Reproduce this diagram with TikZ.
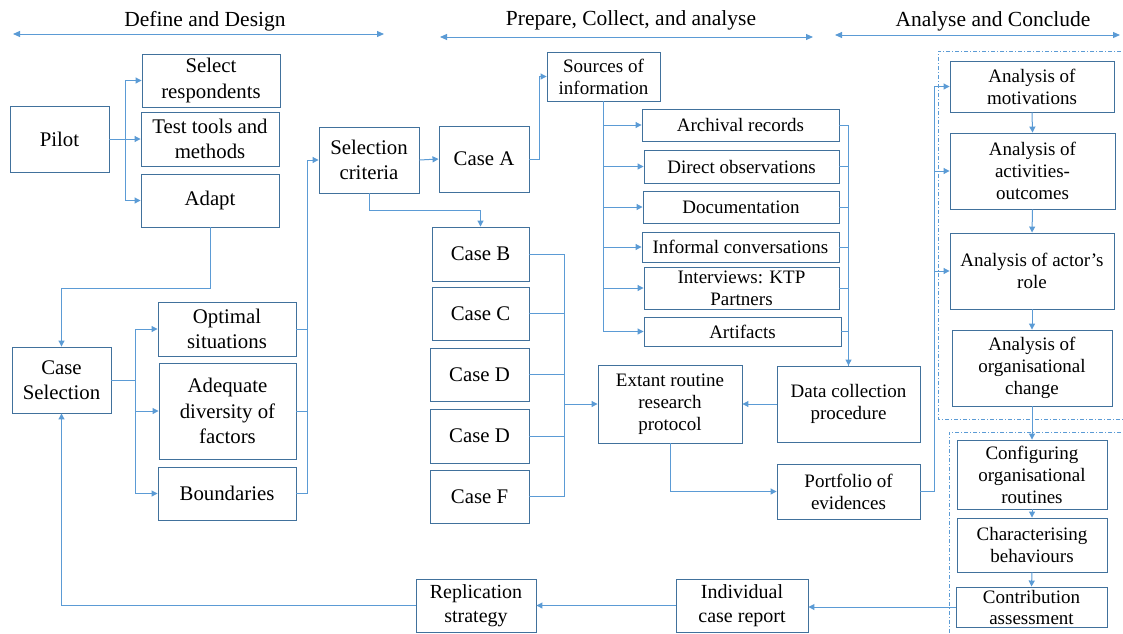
\documentclass[tikz,border=0pt]{standalone}
\usepackage{fontspec}
\setmainfont{Liberation Serif}
\usetikzlibrary{arrows.meta}
\definecolor{boxc}{HTML}{41719C}
\definecolor{linec}{HTML}{5B9BD5}
\newcommand\FontH{\fontsize{21.5}{25}\selectfont}
\newcommand\FontL{\fontsize{20.8}{25.5}\selectfont}
\newcommand\FontM{\fontsize{20}{23.5}\selectfont}
\newcommand\FontS{\fontsize{19}{22}\selectfont}
\tikzset{
  box/.style={draw=boxc, line width=0.9pt, align=center, inner sep=0pt, font=\FontL},
  sbox/.style={box, font=\FontS},
  mbox/.style={box, font=\FontM},
  conn/.style={draw=linec, line width=1pt},
  arr/.style={conn, -{Triangle[length=6pt,width=6pt]}},
  twoway/.style={conn, {Triangle[length=7pt,width=6pt]}-{Triangle[length=7pt,width=6pt]}},
  frame/.style={draw=linec, line width=0.8pt, dash pattern=on 4pt off 2pt on 1pt off 2pt},
  head/.style={font=\FontH, inner sep=0pt},
}
\begin{document}
\begin{tikzpicture}[x=1pt,y=-1pt]
\useasboundingbox (0,0) rectangle (1123,633);

% phase headings
\node[head] (h1) at (205,21) {Define and Design};
\node[head] (h2) at (631,20) {Prepare, Collect, and analyse};
\node[head] (h3) at (993,21) {Analyse and Conclude};
\coordinate (h1a) at (13,34);  \coordinate (h1b) at (384,34);
\coordinate (h2a) at (440,37); \coordinate (h2b) at (813,37);
\coordinate (h3a) at (835,35); \coordinate (h3b) at (1120,35);
\draw[twoway] (h1a) -- (h1b);
\draw[twoway] (h2a) -- (h2b);
\draw[twoway] (h3a) -- (h3b);

% grouping frames on the right
\draw[frame] (1130,51) -- (938,51) -- (938,419) -- (1130,419);
\draw[frame] (1130,432) -- (949,432) -- (949,640);

% define and design
\node[box, minimum width=99pt, minimum height=66pt] (pilot) at (59.5,139) {Pilot};
\node[box, minimum width=138pt, minimum height=53pt] (selresp) at (211,80.5) {Select\\respondents};
\node[box, minimum width=138pt, minimum height=54pt] (tools) at (210,139) {Test tools and\\methods};
\node[box, minimum width=138pt, minimum height=53pt] (adapt) at (210,200.5) {Adapt};
\node[box, minimum width=99pt, minimum height=66pt] (casesel) at (61.5,380) {Case\\Selection};
\node[box, minimum width=138pt, minimum height=54pt] (optimal) at (227,329) {Optimal\\situations};
\node[box, minimum width=137pt, minimum height=96pt] (adequate) at (227.5,411) {Adequate\\diversity of\\factors};
\node[box, minimum width=138pt, minimum height=53pt] (bound) at (227,493.5) {Boundaries};
\node[box, minimum width=100pt, minimum height=66pt] (selcrit) at (369,160) {Selection\\criteria};

% cases
\node[box, minimum width=90pt, minimum height=66pt] (caseA) at (484,159) {Case A};
\node[box, minimum width=97pt, minimum height=54pt] (caseB) at (480.5,254) {Case B};
\node[box, minimum width=97pt, minimum height=53pt] (caseC) at (480.5,313.5) {Case C};
\node[box, minimum width=99pt, minimum height=53pt] (caseD) at (479.5,374.5) {Case D};
\node[box, minimum width=99pt, minimum height=54pt] (caseE) at (479.5,436) {Case D};
\node[box, minimum width=99pt, minimum height=53pt] (caseF) at (479.5,496.5) {Case F};

% sources of information
\node[sbox, minimum width=113pt, minimum height=49pt] (sources) at (603.5,76.5) {Sources of\\information};
\node[sbox, minimum width=197pt, minimum height=32pt] (archival) at (740.5,125) {Archival records};
\node[sbox, minimum width=195pt, minimum height=33pt] (direct) at (741.5,166.5) {Direct observations};
\node[sbox, minimum width=196pt, minimum height=32pt] (docs) at (741,207) {Documentation};
\node[sbox, minimum width=197pt, minimum height=30pt] (informal) at (740.5,247) {Informal conversations};
\node[sbox, minimum width=195pt, minimum height=42pt] (interviews) at (741.5,288) {Interviews: KTP\\Partners};
\node[sbox, minimum width=197pt, minimum height=29pt] (artifacts) at (742.5,331.5) {Artifacts};

\node[sbox, minimum width=144pt, minimum height=78pt] (extant) at (670,404) {Extant routine\\research\\protocol};
\node[sbox, minimum width=143pt, minimum height=76pt] (datacoll) at (848.5,404) {Data collection\\procedure};
\node[sbox, minimum width=143pt, minimum height=55pt] (portfolio) at (848.5,491.5) {Portfolio of\\evidences};

% analyse and conclude
\node[sbox, minimum width=164pt, minimum height=51pt] (motiv) at (1032,86.5) {Analysis of\\motivations};
\node[sbox, minimum width=165pt, minimum height=76pt] (activ) at (1032.5,171) {Analysis of\\activities-\\outcomes};
\node[sbox, minimum width=164pt, minimum height=76pt] (actor) at (1032,271) {Analysis of actor’s\\role};
\node[sbox, minimum width=160pt, minimum height=76pt] (orgch) at (1032,368) {Analysis of\\organisational\\change};
\node[sbox, minimum width=150pt, minimum height=69pt] (config) at (1032,474.5) {Configuring\\organisational\\routines};
\node[sbox, minimum width=150pt, minimum height=54pt] (charact) at (1032,545) {Characterising\\behaviours};
\node[sbox, minimum width=151pt, minimum height=40pt, font=\fontsize{19}{21}\selectfont] (contrib) at (1031.5,607) {Contribution\\assessment};
\node[mbox, minimum width=132pt, minimum height=53pt] (indiv) at (742,605.5) {Individual\\case report};
\node[mbox, minimum width=120pt, minimum height=53pt] (replic) at (476,605.5) {Replication\\strategy};

% connectors: define and design
\draw[arr] (pilot.east) -- ++(16,0) |- (selresp.west);
\draw[arr] (pilot.east) -- (tools.west);
\draw[arr] (pilot.east) -- ++(16,0) |- (adapt.west);
\draw[arr] (adapt.south) -- ++(0,61) -| (casesel.north);
\draw[arr] (casesel.east) -- ++(24,0) |- (optimal.west);
\draw[arr] (casesel.east) -- ++(24,0) |- (adequate.west);
\draw[arr] (casesel.east) -- ++(24,0) |- (bound.west);
\draw[conn] (optimal.east) -- ++(11,0);
\draw[conn] (adequate.east) -- ++(11,0);
\draw[arr] (bound.east) -- ++(11,0) |- (selcrit.west);

% connectors: cases
\draw[arr] (selcrit.east) -- (caseA.west);
\draw[arr] (selcrit.south) -- ++(0,17) -| (caseB.north);
\draw[arr] (caseA.east) -- ++(10,0) |- (sources.west);
\draw[conn] (caseB.east) -- ++(35,0) |- (caseF.east);
\draw[conn] (caseC.east) -- ++(35,0);
\draw[conn] (caseD.east) -- ++(35,0);
\draw[conn] (caseE.east) -- ++(36,0);
\coordinate (cj) at (564,404);
\draw[arr] (cj) -- (extant.west);

% connectors: sources and data collection
\foreach \s in {archival,direct,docs,informal,interviews,artifacts}
  \draw[arr] (sources.south) |- (\s.west);
\foreach \s in {direct,docs,informal,interviews,artifacts}
  \draw[conn] (\s.east) -| (datacoll.north);
\draw[arr] (archival.east) -| (datacoll.north);
\draw[arr] (datacoll.west) -- (extant.east);
\draw[arr] (extant.south) |- (portfolio.west);

% connectors: analysis
\draw[arr] (portfolio.east) -- ++(14,0) |- (motiv.west);
\draw[arr] (portfolio.east) -- ++(14,0) |- (activ.west);
\draw[arr] (portfolio.east) -- ++(14,0) |- (actor.west);
\draw[arr] (motiv.south) -- (activ.north);
\draw[arr] (activ.south) -- (actor.north);
\draw[arr] (actor.south) -- (orgch.north);
\draw[arr] (orgch.south) -- (config.north);
\draw[arr] (config.south) -- (charact.north);
\draw[arr] (charact.south) -- (contrib.north);

% connectors: reporting loop
\draw[arr] (contrib.west) -- (contrib.west -| indiv.east);
\draw[arr] (indiv.west) -- (replic.east);
\draw[arr] (replic.west) -| (casesel.south);
\end{tikzpicture}
\end{document}
